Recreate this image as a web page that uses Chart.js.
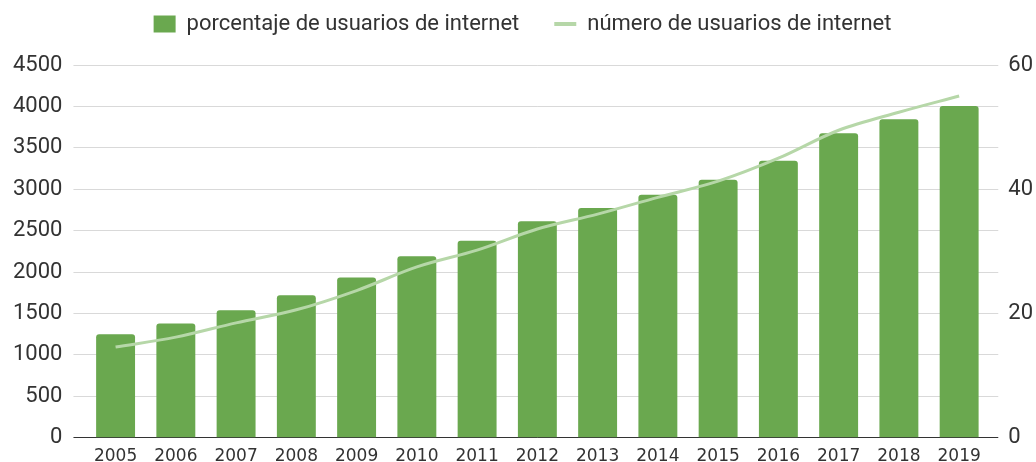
<!DOCTYPE html>
<html>
<head>
<meta charset="utf-8">
<script src="https://cdn.jsdelivr.net/npm/chart.js@4"></script>
<style>
  body { margin: 0; background: #fff; }
  #wrap { width: 1036px; height: 462px; }
</style>
</head>
<body>
<div id="wrap"><canvas id="chart"></canvas></div>
<script>
const years = ['2005', '2006', '2007', '2008', '2009', '2010', '2011', '2012', '2013', '2014', '2015', '2016', '2017', '2018', '2019'];
const porcentaje = [1250, 1380, 1540, 1720, 1935, 2190, 2380, 2615, 2775, 2935, 3115, 3345, 3675, 3845, 4005];
const numero = [14.6, 16.2, 18.5, 20.6, 23.7, 27.5, 30.2, 33.6, 36.0, 38.7, 41.3, 45.0, 49.5, 52.4, 55.0];
const rightLabels = [0, 20, 40, 60];

const barColor = '#6aa84f';
const lineColor = '#b6d7a8';
const gridColor = '#d9d9d9';
const baseColor = '#333333';

const gridFor = ctx => (ctx.tick && ctx.tick.value === 0) ? baseColor : gridColor;

// a bit of room between the legend and the plot
const legendSpacer = {
  id: 'legendSpacer',
  beforeInit(chart) {
    const fit = chart.legend.fit;
    chart.legend.fit = function () {
      fit.bind(chart.legend)();
      this.height += 20;
    };
  }
};

const ctx = document.getElementById('chart').getContext('2d');

new Chart(ctx, {
  data: {
    labels: years,
    datasets: [{
      type: 'line',
      label: 'número de usuarios de internet',
      data: numero,
      yAxisID: 'y1',
      borderColor: lineColor,
      backgroundColor: lineColor,
      borderWidth: 3,
      pointRadius: 0,
      cubicInterpolationMode: 'monotone',
      order: 0
    }, {
      type: 'bar',
      label: 'porcentaje de usuarios de internet',
      data: porcentaje,
      yAxisID: 'y',
      backgroundColor: barColor,
      borderRadius: { topLeft: 3, topRight: 3 },
      borderSkipped: 'start',
      categoryPercentage: 1,
      barPercentage: 0.646,
      order: 1
    }]
  },
  options: {
    responsive: true,
    maintainAspectRatio: false,
    animation: false,
    layout: {
      padding: { top: -22, left: 2, right: -7, bottom: -16 }
    },
    plugins: {
      legend: {
        display: true,
        position: 'top',
        labels: {
          usePointStyle: true,
          pointStyleWidth: 22,
          boxHeight: 17,
          padding: 35,
          color: '#333',
          font: { family: 'Roboto', size: 22 },
          generateLabels: chart => {
            const ds = chart.data.datasets;
            return [
              { text: ds[1].label, fillStyle: barColor, strokeStyle: barColor, lineWidth: 0, pointStyle: 'rect', datasetIndex: 1, fontColor: '#333' },
              { text: ds[0].label, fillStyle: lineColor, strokeStyle: lineColor, lineWidth: 4, pointStyle: 'line', datasetIndex: 0, fontColor: '#333' }
            ];
          }
        }
      },
      tooltip: { enabled: false }
    },
    scales: {
      x: {
        grid: { display: false, drawTicks: false },
        border: { display: false },
        ticks: {
          color: '#333',
          padding: 9,
          font: { family: 'DejaVu Sans', size: 17 }
        }
      },
      y: {
        position: 'left',
        min: 0,
        max: 4500,
        border: { display: false },
        grid: { color: gridFor, tickLength: 12 },
        ticks: {
          stepSize: 500,
          padding: 11,
          color: '#333',
          font: { family: 'Roboto', size: 22 },
          callback: v => String(v)
        }
      },
      y1: {
        position: 'right',
        min: 0,
        max: 60,
        border: { display: false },
        grid: { drawOnChartArea: false, color: gridFor, tickLength: 9 },
        ticks: {
          count: 10,
          padding: 10,
          color: '#333',
          font: { family: 'Roboto', size: 22 },
          callback: v => {
            const r = Math.round(v);
            return (Math.abs(v - r) < 1e-6 && rightLabels.includes(r)) ? String(r) : '';
          }
        }
      }
    }
  },
  plugins: [legendSpacer]
});
</script>
</body>
</html>
